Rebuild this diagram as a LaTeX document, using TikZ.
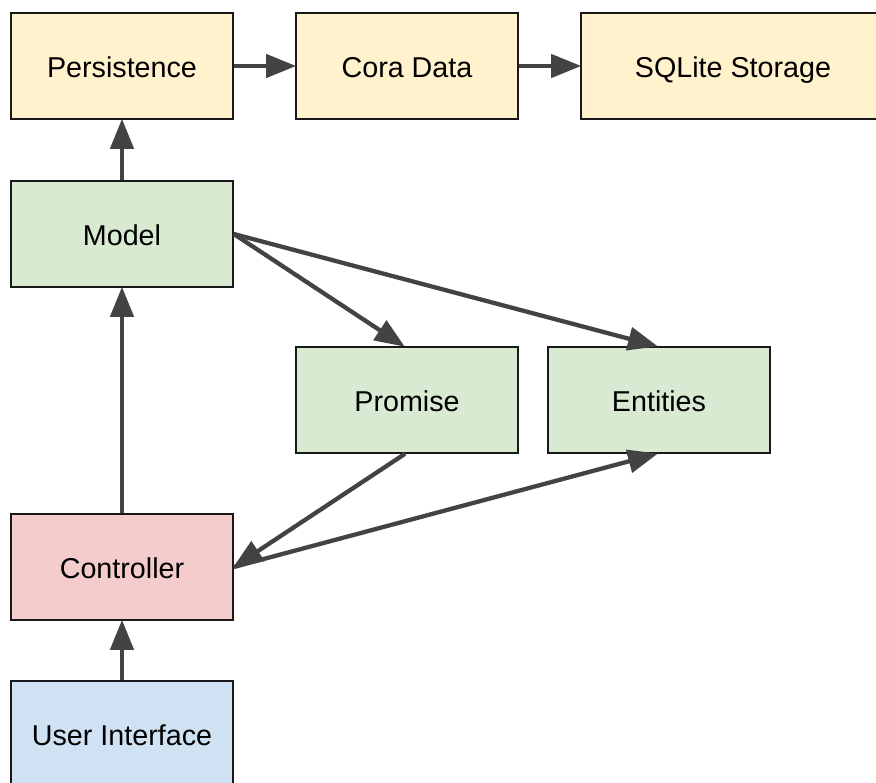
\documentclass[tikz,border=0pt]{standalone}
\usepackage{fontspec}
\setmainfont{Liberation Sans}
\usetikzlibrary{arrows.meta}
\definecolor{cyellow}{HTML}{FFF2CC}
\definecolor{cgreen}{HTML}{D9EAD3}
\definecolor{cred}{HTML}{F4CCCC}
\definecolor{cblue}{HTML}{CFE2F3}
\definecolor{carrow}{HTML}{434343}
\begin{document}
\begin{tikzpicture}[x=1pt,y=-1pt,
  box/.style={draw=black!90, line width=1.6pt, minimum width=222pt, minimum height=106pt,
    inner sep=0pt, text height=28pt, text depth=5.4pt,
    font=\fontsize{28.7}{34}\selectfont, anchor=center},
  conn/.style={draw=carrow, line width=4.3pt, -{Triangle[length=30pt,width=23pt]}, shorten >=-1pt}
]
\useasboundingbox (0,0) rectangle (876,783);
\node[box, fill=cyellow] (pers) at (122,66) {Persistence};
\node[box, fill=cyellow] (cora) at (407,66) {Cora Data};
\node[box, fill=cyellow, minimum width=304pt] (sql) at (733,66) {SQLite Storage};
\node[box, fill=cgreen] (model) at (122,234) {Model};
\node[box, fill=cgreen] (prom) at (407,400) {Promise};
\node[box, fill=cgreen] (ent) at (659,400) {Entities};
\node[box, fill=cred] (ctrl) at (122,567) {Controller};
\node[box, fill=cblue] (ui) at (122,734) {User Interface};
\draw[conn] (pers.east) -- (cora.west);
\draw[conn] (cora.east) -- (sql.west);
\draw[conn] (model.north) -- (pers.south);
\draw[conn] (ctrl.north) -- (model.south);
\draw[conn] (ui.north) -- (ctrl.south);
\draw[conn] (model.east) -- ([xshift=-3pt]prom.north);
\draw[conn] (model.east) -- ([xshift=-2pt]ent.north);
\draw[conn] ([xshift=-2pt]prom.south) -- (ctrl.east);
\draw[conn] (ctrl.east) -- ([xshift=-2pt]ent.south);
\end{tikzpicture}
\end{document}
